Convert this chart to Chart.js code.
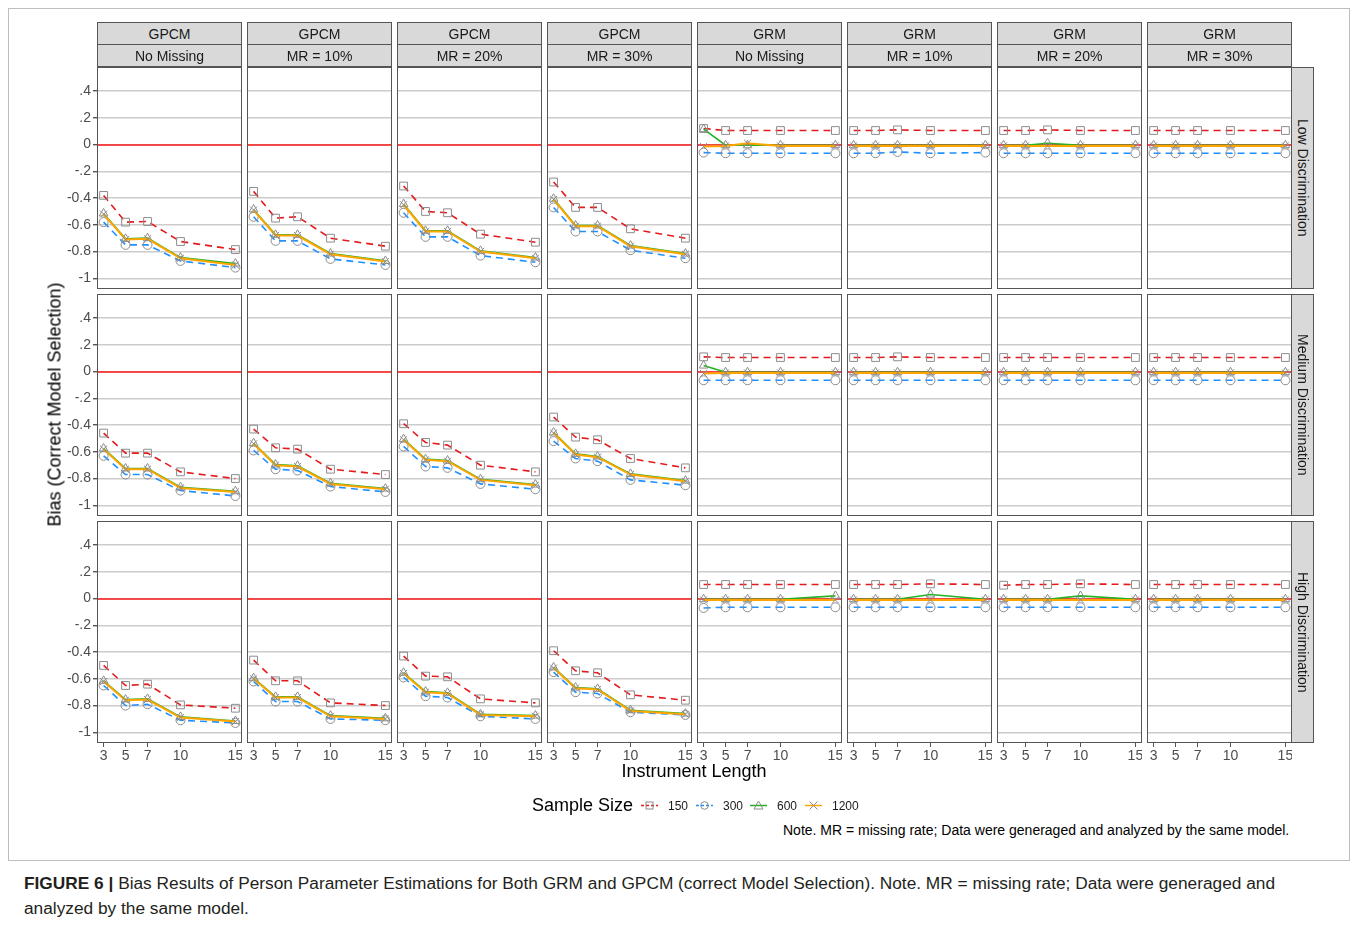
<!DOCTYPE html>
<html>
<head>
<meta charset="utf-8">
<script src="https://cdn.jsdelivr.net/npm/chart.js@4.4.0/dist/chart.umd.min.js"></script>
<style>
  body { margin: 0; background: #fff; font-family: "Liberation Sans", Arial, sans-serif; }
  #page { position: relative; width: 1356px; height: 926px; overflow: hidden; }
  .abs { position: absolute; }
  .strip { position: absolute; box-sizing: border-box; background: #d9d9d9; border: 1px solid #555;
           font-size: 14px; color: #1a1a1a; display: flex; align-items: center; justify-content: center; }
  .rstrip { writing-mode: vertical-rl; }
  .frame { position: absolute; box-sizing: border-box; border: 1px solid #555; pointer-events: none; }
  .leg { position: absolute; font-size: 12px; color: #1a1a1a; }
</style>
</head>
<body>
<div id="page">
  <div class="abs" style="left:8px;top:8px;width:1342px;height:853px;border:1px solid #bdbdbd;box-sizing:border-box;"></div>
</div>
<script>
// Facet labels
const models = ['GPCM', 'GPCM', 'GPCM', 'GPCM', 'GRM', 'GRM', 'GRM', 'GRM'];
const missing = ['No Missing', 'MR = 10%', 'MR = 20%', 'MR = 30%', 'No Missing', 'MR = 10%', 'MR = 20%', 'MR = 30%'];
const discLabels = ['Low Discrimination', 'Medium Discrimination', 'High Discrimination'];

// Instrument length (x) and y ticks
const lengths = [3, 5, 7, 10, 15];
const yTickVals = [-1, -0.8, -0.6, -0.4, -0.2, 0, 0.2, 0.4];
const yTickText = ['-1', '-0.8', '-0.6', '-0.4', '-.2', '0', '.2', '.4'];
const sizes = ['150', '300', '600', '1200'];

// Low discrimination, one row of 5 values per panel (8 panels)
const low150 = [
  [-0.38, -0.58, -0.575, -0.725, -0.785], [-0.35, -0.55, -0.54, -0.70, -0.76],
  [-0.31, -0.50, -0.51, -0.67, -0.73], [-0.28, -0.47, -0.47, -0.63, -0.70],
  [0.12, 0.105, 0.105, 0.105, 0.105], [0.105, 0.105, 0.11, 0.105, 0.105],
  [0.105, 0.105, 0.11, 0.105, 0.105], [0.105, 0.105, 0.105, 0.105, 0.105]
];
const low300 = [
  [-0.58, -0.75, -0.75, -0.87, -0.92], [-0.54, -0.72, -0.72, -0.855, -0.90],
  [-0.51, -0.69, -0.69, -0.83, -0.88], [-0.47, -0.65, -0.65, -0.79, -0.85],
  [-0.06, -0.065, -0.065, -0.065, -0.065], [-0.065, -0.065, -0.055, -0.065, -0.06],
  [-0.065, -0.065, -0.065, -0.065, -0.065], [-0.065, -0.065, -0.065, -0.065, -0.065]
];
const low600 = [
  [-0.515, -0.705, -0.70, -0.845, -0.89], [-0.485, -0.675, -0.675, -0.815, -0.87],
  [-0.445, -0.645, -0.645, -0.795, -0.845], [-0.405, -0.605, -0.605, -0.755, -0.815],
  [0.115, -0.005, -0.005, -0.005, -0.005], [-0.005, -0.005, -0.005, -0.005, -0.005],
  [-0.005, -0.005, 0.01, -0.005, -0.005], [-0.005, -0.005, -0.005, -0.005, -0.005]
];
const low1200 = [
  [-0.52, -0.71, -0.705, -0.85, -0.90], [-0.49, -0.68, -0.68, -0.82, -0.875],
  [-0.45, -0.65, -0.65, -0.80, -0.85], [-0.41, -0.61, -0.61, -0.76, -0.82],
  [-0.015, -0.01, 0.01, -0.01, -0.01], [-0.01, -0.01, -0.01, -0.01, -0.01],
  [-0.01, -0.01, -0.01, -0.01, -0.01], [-0.01, -0.01, -0.01, -0.01, -0.01]
];

// Medium discrimination
const med150 = [
  [-0.46, -0.61, -0.61, -0.75, -0.80], [-0.43, -0.57, -0.58, -0.73, -0.77],
  [-0.39, -0.53, -0.55, -0.70, -0.75], [-0.34, -0.49, -0.51, -0.65, -0.72],
  [0.11, 0.105, 0.105, 0.105, 0.105], [0.105, 0.105, 0.11, 0.105, 0.105],
  [0.105, 0.105, 0.105, 0.105, 0.105], [0.105, 0.105, 0.105, 0.105, 0.105]
];
const med300 = [
  [-0.63, -0.77, -0.77, -0.89, -0.93], [-0.59, -0.73, -0.74, -0.86, -0.90],
  [-0.56, -0.71, -0.72, -0.84, -0.88], [-0.52, -0.65, -0.67, -0.81, -0.85],
  [-0.065, -0.065, -0.065, -0.065, -0.065], [-0.065, -0.065, -0.065, -0.065, -0.065],
  [-0.065, -0.065, -0.065, -0.065, -0.065], [-0.065, -0.065, -0.065, -0.065, -0.065]
];
const med600 = [
  [-0.575, -0.725, -0.725, -0.865, -0.895], [-0.535, -0.695, -0.705, -0.835, -0.875],
  [-0.505, -0.655, -0.665, -0.805, -0.845], [-0.455, -0.615, -0.635, -0.765, -0.815],
  [0.045, -0.005, -0.005, -0.005, -0.005], [-0.005, -0.005, -0.005, -0.005, -0.005],
  [-0.005, -0.005, -0.005, -0.005, -0.005], [-0.005, -0.005, -0.005, -0.005, -0.005]
];
const med1200 = [
  [-0.58, -0.73, -0.73, -0.87, -0.90], [-0.54, -0.70, -0.71, -0.84, -0.88],
  [-0.51, -0.66, -0.67, -0.81, -0.85], [-0.46, -0.62, -0.64, -0.77, -0.82],
  [-0.015, -0.01, -0.01, -0.01, -0.01], [-0.01, -0.01, -0.01, -0.01, -0.01],
  [-0.01, -0.01, -0.01, -0.01, -0.01], [-0.01, -0.01, -0.01, -0.01, -0.01]
];

// High discrimination
const high150 = [
  [-0.50, -0.65, -0.64, -0.795, -0.82], [-0.46, -0.615, -0.615, -0.78, -0.80],
  [-0.43, -0.58, -0.585, -0.75, -0.78], [-0.39, -0.54, -0.555, -0.72, -0.76],
  [0.105, 0.105, 0.105, 0.105, 0.105], [0.105, 0.105, 0.105, 0.11, 0.105],
  [0.10, 0.105, 0.105, 0.11, 0.105], [0.105, 0.105, 0.105, 0.105, 0.105]
];
const high300 = [
  [-0.65, -0.80, -0.79, -0.91, -0.93], [-0.62, -0.77, -0.77, -0.90, -0.91],
  [-0.59, -0.73, -0.74, -0.88, -0.90], [-0.55, -0.70, -0.71, -0.85, -0.87],
  [-0.07, -0.065, -0.065, -0.065, -0.065], [-0.065, -0.065, -0.065, -0.065, -0.065],
  [-0.065, -0.065, -0.065, -0.065, -0.065], [-0.065, -0.065, -0.065, -0.065, -0.065]
];
const high600 = [
  [-0.615, -0.755, -0.75, -0.885, -0.915], [-0.595, -0.735, -0.735, -0.875, -0.895],
  [-0.555, -0.695, -0.705, -0.865, -0.875], [-0.515, -0.665, -0.675, -0.835, -0.86],
  [-0.005, -0.005, -0.005, -0.005, 0.02], [-0.005, -0.005, -0.005, 0.03, -0.005],
  [-0.005, -0.005, -0.005, 0.02, -0.005], [-0.005, -0.005, -0.005, -0.005, -0.005]
];
const high1200 = [
  [-0.62, -0.76, -0.755, -0.89, -0.92], [-0.60, -0.74, -0.74, -0.88, -0.90],
  [-0.56, -0.70, -0.71, -0.87, -0.88], [-0.52, -0.67, -0.68, -0.84, -0.865],
  [-0.01, -0.01, -0.01, -0.01, -0.01], [-0.01, -0.01, -0.01, -0.01, -0.01],
  [-0.01, -0.01, -0.01, -0.01, -0.01], [-0.01, -0.01, -0.01, -0.01, -0.01]
];

const rowData = [
  [low150, low300, low600, low1200],
  [med150, med300, med600, med1200],
  [high150, high300, high600, high1200]
];

// Series styling
const lineColors = ['#e41a1c', '#1e90ff', '#22b222', '#ffa500'];
const dashes = [[7, 5], [7, 5], [], []];
const lineWidths = [1.6, 1.6, 1.6, 2];
const markers = ['rect', 'circle', 'triangle', 'crossRot'];
const markerRadius = [5.5, 4.5, 5, 5];
const drawOrder = [3, 2, 1, 0];

// Layout (pixels)
const colX = [97, 247, 397, 547, 697, 847, 997, 1147];
const rowY = [67, 294, 521];
const panelW = 145, panelH = 222;
const padL = 50, padB = 22;

Chart.defaults.font.family = '"Liberation Sans", Arial, sans-serif';

const zeroLine = {
    id: 'zeroLine',
    beforeDatasetsDraw(chart) {
        const y = Math.round(chart.scales.y.getPixelForValue(0));
        const a = chart.chartArea;
        const ctx = chart.ctx;
        ctx.save();
        ctx.strokeStyle = '#ff1a1a';
        ctx.lineWidth = 1.6;
        ctx.beginPath();
        ctx.moveTo(a.left, y);
        ctx.lineTo(a.right, y);
        ctx.stroke();
        ctx.restore();
    }
};

// keep the plot area exactly the panel box
function noPad(s) {
    s.paddingTop = 0;
    s.paddingBottom = 0;
    s.paddingLeft = 0;
    s.paddingRight = 0;
}

const page = document.getElementById('page');

function addDiv(cls, style, text) {
    const d = document.createElement('div');
    d.className = cls;
    d.style.cssText = style;
    if (text !== undefined) d.textContent = text;
    page.appendChild(d);
    return d;
}

function makePanel(r, c) {
    const left = c === 0 ? padL : 0;
    const bottom = r === 2 ? padB : 0;
    const box = addDiv('abs', `left:${colX[c] - left}px;top:${rowY[r]}px;width:${panelW + left}px;height:${panelH + bottom}px;`);
    const canvas = document.createElement('canvas');
    box.appendChild(canvas);

    const datasets = sizes.map((s, k) => ({
        label: s,
        data: lengths.map((x, i) => ({ x: x, y: rowData[r][k][c][i] })),
        borderColor: lineColors[k],
        borderWidth: lineWidths[k],
        borderDash: dashes[k],
        pointStyle: markers[k],
        pointRadius: markerRadius[k],
        pointBorderColor: '#8c8c8c',
        pointBorderWidth: 1,
        pointBackgroundColor: 'rgba(0,0,0,0)',
        order: drawOrder[k],
        tension: 0
    }));

    new Chart(canvas, {
        type: 'line',
        data: { datasets: datasets },
        options: {
            responsive: true,
            maintainAspectRatio: false,
            animation: false,
            layout: { padding: 0, autoPadding: false },
            plugins: { legend: { display: false }, tooltip: { enabled: false } },
            scales: {
                x: {
                    type: 'linear',
                    display: r === 2,
                    min: 2.4,
                    max: 15.6,
                    afterBuildTicks: s => { s.ticks = lengths.map(v => ({ value: v })); },
                    afterFit: s => { s.height = bottom; noPad(s); },
                    grid: { color: 'rgba(0,0,0,0)', tickColor: '#555', tickLength: 4, drawOnChartArea: false },
                    border: { display: false },
                    ticks: { font: { size: 14 }, color: '#4d4d4d', padding: 1, maxRotation: 0 }
                },
                y: {
                    type: 'linear',
                    min: -1.08,
                    max: 0.58,
                    afterBuildTicks: s => { s.ticks = yTickVals.map(v => ({ value: v })); },
                    afterFit: s => { s.width = left; noPad(s); },
                    grid: { color: '#cccccc', lineWidth: 1.4, tickColor: '#555', tickLength: 4, drawTicks: c === 0 },
                    border: { display: false },
                    ticks: {
                        display: c === 0,
                        font: { size: 14 },
                        color: '#4d4d4d',
                        padding: 2,
                        callback: (v, i) => yTickText[i]
                    }
                }
            }
        },
        plugins: [zeroLine]
    });

    addDiv('frame', `left:${colX[c]}px;top:${rowY[r]}px;width:${panelW}px;height:${panelH}px;`);
}

for (let r = 0; r < 3; r++) {
    for (let c = 0; c < 8; c++) makePanel(r, c);
}

// Strips
for (let c = 0; c < 8; c++) {
    addDiv('strip', `left:${colX[c]}px;top:22px;width:${panelW}px;height:23px;`, models[c]);
    addDiv('strip', `left:${colX[c]}px;top:44px;width:${panelW}px;height:23px;`, missing[c]);
}
for (let r = 0; r < 3; r++) {
    addDiv('strip rstrip', `left:1291px;top:${rowY[r]}px;width:23px;height:${panelH}px;`, discLabels[r]);
}

// Axis titles
addDiv('abs', 'left:-100px;top:394px;width:310px;text-align:center;font-size:18px;color:#000;transform:rotate(-90deg);', 'Bias (Correct Model Selection)');
addDiv('abs', 'left:544px;top:761px;width:300px;text-align:center;font-size:18px;color:#000;', 'Instrument Length');

// Legend
addDiv('abs', 'left:532px;top:795px;font-size:18px;color:#000;', 'Sample Size');
const keyX = [641, 696, 750, 805];
const keyGlyph = [
    '<rect x="5" y="4" width="7" height="7" fill="none" stroke="#8c8c8c"/>',
    '<circle cx="8.5" cy="7.5" r="3.8" fill="none" stroke="#8c8c8c"/>',
    '<polygon points="8.5,3 13,11 4,11" fill="none" stroke="#8c8c8c"/>',
    '<path d="M4.5 3.5 L12.5 11.5 M12.5 3.5 L4.5 11.5" stroke="#8c8c8c"/>'
];
sizes.forEach((s, k) => {
    const dash = dashes[k].length ? 'stroke-dasharray="3 2"' : '';
    const svg = `<svg width="17" height="15" viewBox="0 0 17 15"><line x1="0" y1="7.5" x2="17" y2="7.5" stroke="${lineColors[k]}" stroke-width="1.5" ${dash}/>${keyGlyph[k]}</svg>`;
    const d = addDiv('abs', `left:${keyX[k]}px;top:798px;`);
    d.innerHTML = svg;
    addDiv('leg', `left:${keyX[k] + 27}px;top:799px;`, s);
});

addDiv('abs', 'left:783px;top:822px;font-size:14px;color:#000;white-space:nowrap;', 'Note. MR = missing rate; Data were generaged and analyzed by the same model.');

// Caption
const cap = addDiv('abs', 'left:24px;top:871px;width:1320px;font-size:17.3px;line-height:25px;color:#231f20;');
cap.innerHTML = '<b>FIGURE 6 |</b> Bias Results of Person Parameter Estimations for Both GRM and GPCM (correct Model Selection). Note. MR = missing rate; Data were generaged and<br>analyzed by the same model.';
</script>
</body>
</html>
